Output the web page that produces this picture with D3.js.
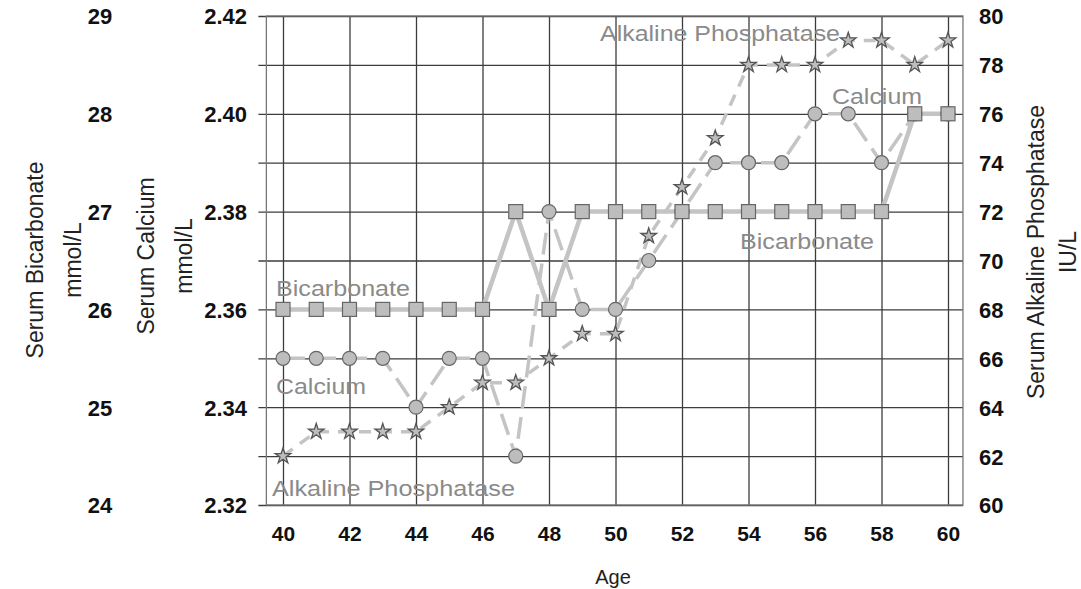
<!DOCTYPE html>
<html>
<head>
<meta charset="utf-8">
<script src="https://cdn.jsdelivr.net/npm/d3@7"></script>
<style>
  html, body { margin: 0; padding: 0; background: #fff; }
  svg { display: block; }
  .tick text { font-family: "Liberation Sans", Arial, sans-serif; font-weight: bold; fill: #111; }
  .title { font-family: "Liberation Sans", Arial, sans-serif; fill: #222; }
  .series-label { font-family: "Liberation Sans", Arial, sans-serif; fill: #8a8a8a; }
</style>
</head>
<body>
<script>
// Ages on the x axis
const ages = d3.range(40, 61);

// Serum bicarbonate, mmol/L (outer left axis)
const bicarbonate = [26, 26, 26, 26, 26, 26, 26, 27, 26, 27, 27, 27, 27, 27, 27, 27, 27, 27, 27, 28, 28];
// Serum calcium, mmol/L (inner left axis)
const calcium = [2.35, 2.35, 2.35, 2.35, 2.34, 2.35, 2.35, 2.33, 2.38, 2.36, 2.36, 2.37, 2.38, 2.39, 2.39, 2.39, 2.40, 2.40, 2.39, 2.40, 2.40];
// Serum alkaline phosphatase, IU/L (right axis)
const alkPhos = [62, 63, 63, 63, 63, 64, 65, 65, 66, 67, 67, 71, 73, 75, 78, 78, 78, 79, 79, 78, 79];

// Tick labels
const ageTicks = d3.range(40, 61, 2);
const calciumTicks = [2.32, 2.34, 2.36, 2.38, 2.40, 2.42];
const bicarbTicks = [24, 25, 26, 27, 28, 29];
const alkTicks = d3.range(60, 81, 2);

const W = 1081, H = 589;
const svg = d3.select("body").append("svg").attr("width", W).attr("height", H);

const plotTop = 16, plotBottom = 505;
const x = d3.scaleLinear().domain([40, 60]).range([283, 948]);
const yCa = d3.scaleLinear().domain([2.32, 2.42]).range([plotBottom, plotTop]);
const yBi = d3.scaleLinear().domain([24, 29]).range([plotBottom, plotTop]);
const yAp = d3.scaleLinear().domain([60, 80]).range([plotBottom, plotTop]);

const boxLeft = x(39.5), boxRight = x(60.45);
const gridColor = "#3c3c3c";

// Horizontal grid lines every 0.01 mmol/L, extending a little left as ticks
const hGrid = svg.append("g")
  .attr("transform", `translate(${boxLeft - 8},0)`)
  .call(d3.axisRight(yCa).tickValues(d3.range(0, 11).map(i => 2.32 + i * 0.01))
    .tickSize(boxRight - boxLeft + 8).tickFormat(""));
hGrid.select(".domain").remove();
hGrid.selectAll("line").attr("stroke", gridColor).attr("stroke-width", 1.3);

// Vertical grid lines at even ages
const vGrid = svg.append("g")
  .attr("transform", `translate(0,${plotBottom})`)
  .call(d3.axisTop(x).tickValues(ageTicks).tickSize(plotBottom - plotTop).tickFormat(""));
vGrid.select(".domain").remove();
vGrid.selectAll("line").attr("stroke", gridColor).attr("stroke-width", 1.3);

// Plot frame
svg.append("rect")
  .attr("x", boxLeft).attr("y", plotTop)
  .attr("width", boxRight - boxLeft).attr("height", plotBottom - plotTop)
  .attr("fill", "none").attr("stroke", "#777").attr("stroke-width", 1.3);

// Calcium tick labels
const caAxis = svg.append("g")
  .attr("transform", "translate(247,0)")
  .call(d3.axisLeft(yCa).tickValues(calciumTicks).tickSize(0).tickPadding(0).tickFormat(d3.format(".2f")));
caAxis.select(".domain").remove();
caAxis.selectAll("text").style("font-size", "22px").attr("dy", "0.36em");

// Bicarbonate tick labels
const biAxis = svg.append("g")
  .attr("transform", "translate(100,0)")
  .call(d3.axisLeft(yBi).tickValues(bicarbTicks).tickSize(0).tickPadding(0).tickFormat(d3.format("d")));
biAxis.select(".domain").remove();
biAxis.selectAll("text").style("font-size", "22px").attr("text-anchor", "middle").attr("dy", "0.36em");

// Alkaline phosphatase tick labels
const apAxis = svg.append("g")
  .attr("transform", "translate(979,0)")
  .call(d3.axisRight(yAp).tickValues(alkTicks).tickSize(0).tickPadding(0));
apAxis.select(".domain").remove();
apAxis.selectAll("text").style("font-size", "22px").attr("dy", "0.36em");

// Age tick labels
const xAxis = svg.append("g")
  .attr("transform", "translate(0,526)")
  .call(d3.axisBottom(x).tickValues(ageTicks).tickSize(0).tickPadding(0));
xAxis.select(".domain").remove();
xAxis.selectAll("text").style("font-size", "21px").attr("dy", "0.71em");

// Axis titles
function vTitle(lines, cx, cy, size) {
  lines.forEach((t, i) => {
    svg.append("text").attr("class", "title")
      .attr("transform", `translate(${cx[i]},${cy}) rotate(-90)`)
      .attr("text-anchor", "middle").attr("dy", "0.35em")
      .style("font-size", size + "px").text(t);
  });
}
vTitle(["Serum Bicarbonate", "mmol/L"], [35, 73], 260, 23);
vTitle(["Serum Calcium", "mmol/L"], [146, 184], 256, 23);
vTitle(["Serum Alkaline Phosphatase", "IU/L"], [1036, 1068], 252, 23);

svg.append("text").attr("class", "title")
  .attr("x", 613).attr("y", 584).attr("text-anchor", "middle")
  .style("font-size", "20px").text("Age");

const lineColor = "#c4c4c4";
const markFill = "#bdbdbd";
const markStroke = "#666";

// Bicarbonate: solid thick line with squares
svg.append("path")
  .datum(bicarbonate)
  .attr("fill", "none").attr("stroke", lineColor).attr("stroke-width", 4.5)
  .attr("d", d3.line().x((d, i) => x(ages[i])).y(d => yBi(d)));

// Calcium: long dashes with circles
svg.append("path")
  .datum(calcium)
  .attr("fill", "none").attr("stroke", lineColor).attr("stroke-width", 3.5)
  .attr("stroke-dasharray", "22,9")
  .attr("d", d3.line().x((d, i) => x(ages[i])).y(d => yCa(d)));

// Alkaline phosphatase: short dashes with stars
svg.append("path")
  .datum(alkPhos)
  .attr("fill", "none").attr("stroke", lineColor).attr("stroke-width", 3.5)
  .attr("stroke-dasharray", "12,9")
  .attr("d", d3.line().x((d, i) => x(ages[i])).y(d => yAp(d)));

svg.append("g").selectAll("path")
  .data(alkPhos).join("path")
  .attr("transform", (d, i) => `translate(${x(ages[i])},${yAp(d)})`)
  .attr("d", d3.symbol(d3.symbolStar, 75))
  .attr("fill", markFill).attr("stroke", "#555").attr("stroke-width", 1.3);

svg.append("g").selectAll("circle")
  .data(calcium).join("circle")
  .attr("cx", (d, i) => x(ages[i])).attr("cy", d => yCa(d)).attr("r", 7)
  .attr("fill", markFill).attr("stroke", markStroke).attr("stroke-width", 1.2);

svg.append("g").selectAll("rect")
  .data(bicarbonate).join("rect")
  .attr("x", (d, i) => x(ages[i]) - 7).attr("y", d => yBi(d) - 7)
  .attr("width", 14).attr("height", 14)
  .attr("fill", markFill).attr("stroke", markStroke).attr("stroke-width", 1.2);

// Series labels
const labels = [
  { t: "Alkaline Phosphatase", x: 600, y: 41, w: 240 },
  { t: "Calcium", x: 832, y: 104, w: 90 },
  { t: "Bicarbonate", x: 740, y: 249, w: 134 },
  { t: "Bicarbonate", x: 276, y: 296, w: 134 },
  { t: "Calcium", x: 276, y: 394, w: 90 },
  { t: "Alkaline Phosphatase", x: 272, y: 496, w: 243 }
];
svg.append("g").selectAll("text")
  .data(labels).join("text")
  .attr("class", "series-label")
  .attr("x", d => d.x).attr("y", d => d.y)
  .attr("textLength", d => d.w).attr("lengthAdjust", "spacingAndGlyphs")
  .style("font-size", "22px")
  .text(d => d.t);
</script>
</body>
</html>
